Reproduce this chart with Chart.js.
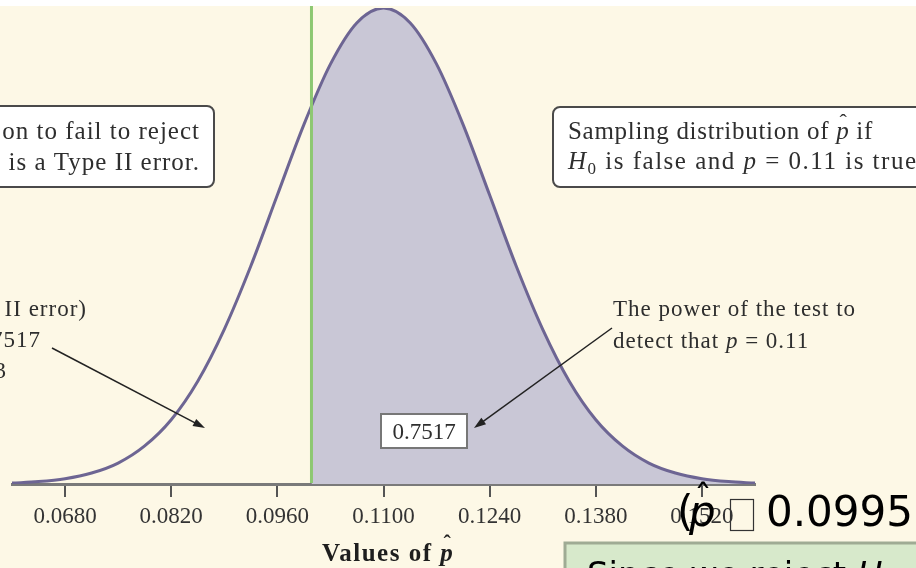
<!DOCTYPE html>
<html>
<head>
<meta charset="utf-8">
<script src="https://cdn.jsdelivr.net/npm/chart.js@4.4.0/dist/chart.umd.min.js"></script>
<style>
  html, body { margin: 0; padding: 0; background: #fff; }
  #wrap { width: 916px; height: 568px; position: relative; }
</style>
</head>
<body>
<div id="wrap"><canvas id="c"></canvas></div>
<script>
// values of p-hat along the axis, and curve height (fraction of peak)
const xValues = [0.0610, 0.0645, 0.0680, 0.0715, 0.0750, 0.0785, 0.0820, 0.0855, 0.0890, 0.0925,
                 0.0960, 0.0995, 0.1030, 0.1065, 0.1100, 0.1135, 0.1170, 0.1205, 0.1240, 0.1275,
                 0.1310, 0.1345, 0.1380, 0.1415, 0.1450, 0.1485, 0.1520, 0.1555, 0.1590];
const curveHeights = [0.002, 0.005, 0.011, 0.023, 0.044, 0.080, 0.135, 0.216, 0.325, 0.458,
                      0.607, 0.755, 0.882, 0.969, 1.000, 0.969, 0.882, 0.755, 0.607, 0.458,
                      0.325, 0.216, 0.135, 0.080, 0.044, 0.023, 0.011, 0.005, 0.002];
const cutoff = 0.1005;
const cutoffHeight = 0.794;
const tickValues = [0.0680, 0.0820, 0.0960, 0.1100, 0.1240, 0.1380, 0.1520];
const powerLabel = '0.7517';

const SERIF = '"Liberation Serif", "Times New Roman", serif';
const SANS = '"DejaVu Sans", sans-serif';

const curvePts = xValues.map((x, i) => ({ x: x, y: curveHeights[i] }));
const shadePts = [{ x: cutoff, y: cutoffHeight }].concat(curvePts.filter(p => p.x > cutoff));

// draw a run of text pieces one after another
function run(ctx, x, y, parts) {
  parts.forEach(p => {
    if (p.at !== undefined) x = p.at;
    ctx.font = p.f;
    ctx.fillText(p.t, x, y + (p.dy || 0));
    if (p.hat) {
      ctx.save();
      ctx.font = p.hat;
      ctx.textAlign = 'center';
      ctx.letterSpacing = '0px';
      ctx.fillText('\u02C6', x + p.hx, y + p.hy);
      ctx.restore();
      ctx.font = p.f;
    }
    x += ctx.measureText(p.t).width;
  });
  return x;
}

function arrow(ctx, x1, y1, x2, y2) {
  const a = Math.atan2(y2 - y1, x2 - x1);
  ctx.save();
  ctx.strokeStyle = '#222';
  ctx.fillStyle = '#222';
  ctx.lineWidth = 1.5;
  ctx.beginPath();
  ctx.moveTo(x1, y1);
  ctx.lineTo(x2 - 8 * Math.cos(a), y2 - 8 * Math.sin(a));
  ctx.stroke();
  ctx.beginPath();
  ctx.moveTo(x2, y2);
  ctx.lineTo(x2 - 12 * Math.cos(a) + 4 * Math.sin(a), y2 - 12 * Math.sin(a) - 4 * Math.cos(a));
  ctx.lineTo(x2 - 12 * Math.cos(a) - 4 * Math.sin(a), y2 - 12 * Math.sin(a) + 4 * Math.cos(a));
  ctx.closePath();
  ctx.fill();
  ctx.restore();
}

function box(ctx, x, y, w, h, r, stroke, lw, fill) {
  ctx.save();
  ctx.beginPath();
  ctx.roundRect(x, y, w, h, r);
  ctx.fillStyle = fill;
  ctx.fill();
  ctx.strokeStyle = stroke;
  ctx.lineWidth = lw;
  ctx.stroke();
  ctx.restore();
}

const paper = {
  id: 'paper',
  beforeDraw(chart) {
    const c = chart.ctx;
    c.save();
    c.fillStyle = '#ffffff';
    c.fillRect(0, 0, chart.width, chart.height);
    c.fillStyle = '#fdf8e6';
    c.fillRect(0, 6, chart.width, chart.height - 6);
    c.restore();
  },
  afterDatasetsDraw(chart) {
    const c = chart.ctx;
    const x = chart.scales.x.getPixelForValue(cutoff);
    c.save();
    c.strokeStyle = '#8dc872';
    c.lineWidth = 3;
    c.beginPath();
    c.moveTo(x, 6);
    c.lineTo(x, chart.chartArea.bottom - 1);
    c.stroke();
    c.restore();
  },
  afterDraw(chart) {
    const c = chart.ctx;
    c.save();
    c.fillStyle = '#2e2e2e';
    c.textBaseline = 'alphabetic';

    // left box
    box(c, -12, 106, 226, 81, 7, '#4a4a4a', 2, '#ffffff');
    c.textAlign = 'right';
    c.letterSpacing = '1px';
    c.font = '25px ' + SERIF;
    c.fillStyle = '#2e2e2e';
    c.fillText('on to fail to reject', 200, 139);
    c.fillText('is a Type II error.', 200, 170);

    // right box
    box(c, 553, 107, 400, 80, 7, '#4a4a4a', 2, '#ffffff');
    c.textAlign = 'left';
    c.letterSpacing = '0.7px';
    c.fillStyle = '#2e2e2e';
    run(c, 568, 139, [
      { t: 'Sampling distribution of ', f: '25px ' + SERIF },
      { t: 'p', f: 'italic 25px ' + SERIF, hat: '22px ' + SERIF, hx: 7, hy: -10 },
      { t: ' if', f: '25px ' + SERIF }
    ]);
    c.letterSpacing = '1.5px';
    run(c, 568, 169, [
      { t: 'H', f: 'italic 25px ' + SERIF },
      { t: '0', f: '17px ' + SERIF, dy: 5 },
      { t: ' is false and ', f: '25px ' + SERIF },
      { t: 'p', f: 'italic 25px ' + SERIF },
      { t: ' = 0.11 is true', f: '25px ' + SERIF }
    ]);

    // left annotation
    c.letterSpacing = '1px';
    c.font = '23px ' + SERIF;
    c.textAlign = 'right';
    c.fillText('\u03B2 = P(Type II error)', 87, 316);
    c.fillText('= 1 \u2212 0.7517', 41, 347);
    c.fillText('= 0.2483', 7, 378);
    arrow(c, 52, 348, 205, 428);

    // right annotation
    c.textAlign = 'left';
    c.font = '23px ' + SERIF;
    c.fillText('The power of the test to', 613, 316);
    run(c, 613, 348, [
      { t: 'detect that ', f: '23px ' + SERIF },
      { t: 'p', f: 'italic 23px ' + SERIF },
      { t: ' = 0.11', f: '23px ' + SERIF }
    ]);
    arrow(c, 612, 328, 474, 428);

    // power value box
    box(c, 381, 414, 86, 34, 0, '#777777', 2, '#ffffff');
    c.textAlign = 'center';
    c.letterSpacing = '0px';
    c.font = '23px ' + SERIF;
    c.fillStyle = '#2e2e2e';
    c.fillText(powerLabel, 424, 439);

    // axis title
    c.textAlign = 'left';
    c.letterSpacing = '1.5px';
    c.fillStyle = '#1e1e1e';
    run(c, 322, 561, [
      { t: 'Values of ', f: 'bold 25px ' + SERIF },
      { t: 'p', f: 'italic bold 25px ' + SERIF, hat: 'bold 22px ' + SERIF, hx: 7, hy: -11 }
    ]);

    // overlapping large text (missing glyph shown as an empty box)
    c.letterSpacing = '0px';
    c.fillStyle = '#000000';
    run(c, 677, 526, [
      { t: '(', f: '42px ' + SANS },
      { t: 'p', f: 'italic 42px ' + SANS, at: 689, hat: '36px ' + SANS, hx: 14, hy: -16 },
      { t: '0.0995)', f: '42px ' + SANS, at: 766 }
    ]);
    c.strokeStyle = '#333333';
    c.lineWidth = 1.2;
    c.strokeRect(730.5, 499.5, 23, 31);

    // green note box, cut by the bottom edge
    box(c, 565, 543, 400, 80, 0, '#9fab94', 3, '#d7e9cb');
    c.fillStyle = '#000000';
    run(c, 587, 586, [
      { t: 'Since we reject ', f: '34px ' + SANS },
      { t: 'H', f: 'italic 34px ' + SANS }
    ]);
    c.restore();
  }
};

new Chart(document.getElementById('c'), {
  type: 'line',
  data: {
    datasets: [
      {
        data: curvePts,
        borderColor: '#6d6593',
        borderWidth: 3,
        pointRadius: 0,
        fill: false,
        cubicInterpolationMode: 'monotone'
      },
      {
        data: shadePts,
        borderWidth: 0,
        borderColor: 'rgba(0,0,0,0)',
        backgroundColor: '#c9c7d6',
        pointRadius: 0,
        fill: 'origin',
        cubicInterpolationMode: 'monotone'
      }
    ]
  },
  options: {
    responsive: true,
    maintainAspectRatio: false,
    animation: false,
    layout: { padding: { left: 12, right: 161, top: 8, bottom: 0 } },
    plugins: { legend: { display: false }, tooltip: { enabled: false } },
    scales: {
      x: {
        type: 'linear',
        min: xValues[0],
        max: xValues[xValues.length - 1],
        afterBuildTicks: s => { s.ticks = tickValues.map(v => ({ value: v })); },
        afterFit: s => { s.height = 84; },
        grid: { drawOnChartArea: false, drawTicks: true, tickLength: 13, color: '#555555', lineWidth: 2 },
        border: { display: true, color: '#7a7a7a', width: 3 },
        ticks: {
          autoSkip: false,
          maxRotation: 0,
          padding: 6,
          color: '#333333',
          font: { family: SERIF, size: 23 },
          callback: v => v.toFixed(4)
        }
      },
      y: { display: false, min: 0, max: 1 }
    }
  },
  plugins: [paper]
});
</script>
</body>
</html>
